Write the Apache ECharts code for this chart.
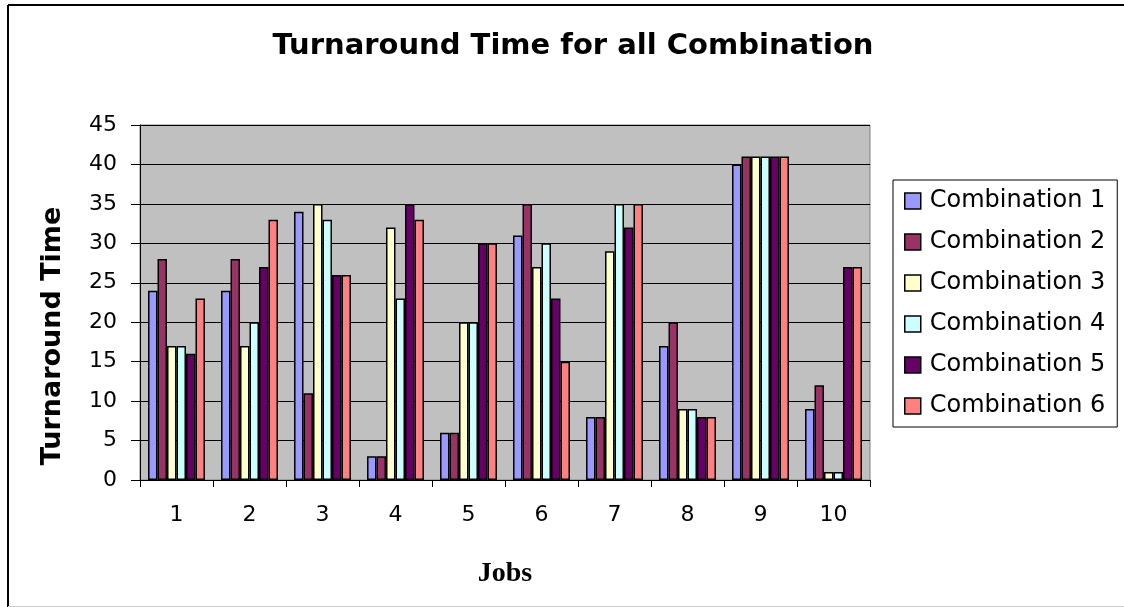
<!DOCTYPE html>
<html>
<head>
<meta charset="utf-8">
<script src="https://cdn.jsdelivr.net/npm/echarts@6/dist/echarts.min.js"></script>
<style>html,body{margin:0;padding:0;background:#fff;}#c{width:1124px;height:607px;}</style>
</head>
<body>
<div id="c"></div>
<script>
var jobs = ['1','2','3','4','5','6','7','8','9','10'];
var seriesNames = ['Combination 1','Combination 2','Combination 3','Combination 4','Combination 5','Combination 6'];
var comb1 = [24, 24, 34, 3, 6, 31, 8, 17, 40, 9];
var comb2 = [28, 28, 11, 3, 6, 35, 8, 20, 41, 12];
var comb3 = [17, 17, 35, 32, 20, 27, 29, 9, 41, 1];
var comb4 = [17, 20, 33, 23, 20, 30, 35, 9, 41, 1];
var comb5 = [16, 27, 26, 35, 30, 23, 32, 8, 41, 27];
var comb6 = [23, 33, 26, 33, 30, 15, 35, 8, 41, 27];
var colors = ['#9999FF','#993366','#FFFFCC','#CCFFFF','#660066','#FF8080'];
var allData = [comb1, comb2, comb3, comb4, comb5, comb6];

var chart = echarts.init(document.getElementById('c'));
var series = seriesNames.map(function(n, i){
  return {
    name: n, type: 'bar', data: allData[i],
    barGap: '0%', barCategoryGap: '22%',
    itemStyle: {color: colors[i], borderColor: '#000', borderWidth: 1.5},
    emphasis: {disabled: true}
  };
});
chart.setOption({
  animation: false,
  backgroundColor: '#fff',
  title: {
    text: 'Turnaround Time for all Combination',
    left: 568, top: 27, textAlign: 'center',
    textStyle: {fontFamily: 'DejaVu Sans', fontWeight: 'bold', fontSize: 29, color: '#000'}
  },
  legend: {
    orient: 'vertical', left: 893, top: 180,
    data: seriesNames,
    itemWidth: 16, itemHeight: 16, itemGap: 17,
    padding: [9, 12, 9, 11],
    borderColor: '#000', borderWidth: 1,
    icon: 'rect',
    itemStyle: {borderColor: '#000', borderWidth: 1.5},
    textStyle: {fontFamily: 'DejaVu Sans', fontSize: 24, lineHeight: 24, color: '#000', padding: [0,0,0,4]}
  },
  grid: {left: 140, right: 254, top: 125, bottom: 127, show: true, backgroundColor: '#C0C0C0', borderColor: '#808080', borderWidth: 1},
  xAxis: {
    type: 'category', data: jobs,
    name: 'Jobs', nameLocation: 'middle', nameGap: 80,
    nameTextStyle: {fontFamily: 'Liberation Serif, Times New Roman', fontWeight: 'bold', fontSize: 28, color: '#000'},
    axisLine: {lineStyle: {color: '#000', width: 1}},
    axisTick: {show: true, length: 7, lineStyle: {color: '#000'}},
    axisLabel: {fontFamily: 'DejaVu Sans', fontSize: 22, color: '#000', margin: 24}
  },
  yAxis: {
    type: 'value', min: 0, max: 45, interval: 5,
    axisLine: {show: true, lineStyle: {color: '#000', width: 1}},
    axisTick: {show: true, length: 9, lineStyle: {color: '#000'}},
    axisLabel: {fontFamily: 'DejaVu Sans', fontSize: 22, color: '#000', margin: 23},
    splitLine: {lineStyle: {color: '#000', width: 1}}
  },
  graphic: [
    {type: 'line', shape: {x1: 8, y1: 5, x2: 1124, y2: 5}, style: {stroke: '#000', lineWidth: 2}, silent: true},
    {type: 'line', shape: {x1: 8, y1: 5, x2: 8, y2: 607}, style: {stroke: '#000', lineWidth: 2}, silent: true},
    {type: 'line', shape: {x1: 8, y1: 606.5, x2: 1124, y2: 606.5}, style: {stroke: '#d0d0d0', lineWidth: 1}, silent: true},
    {type: 'text', x: 53, y: 336, rotation: Math.PI / 2,
     style: {text: 'Turnaround Time', fontFamily: 'DejaVu Sans', fontWeight: 'bold', fontSize: 27, fill: '#000', textAlign: 'center', textVerticalAlign: 'middle'},
     silent: true}
  ],
  series: series
});
</script>
</body>
</html>
